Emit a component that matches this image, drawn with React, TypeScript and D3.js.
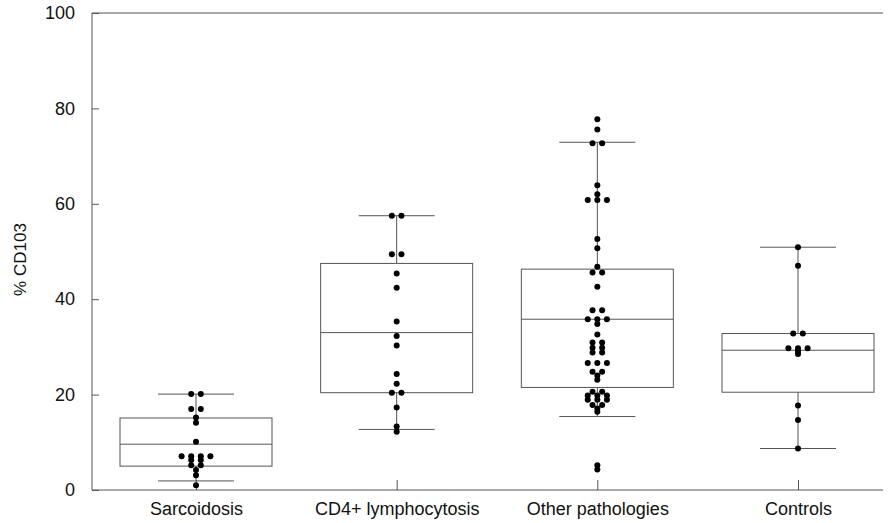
import { useEffect, useRef } from "react";
import * as d3 from "d3";

const categories = ["Sarcoidosis", "CD4+ lymphocytosis", "Other pathologies", "Controls"];

// box stats: [whiskerLow, q1, median, q3, whiskerHigh]
const sarcoidosisBox = [1.9, 5.0, 9.6, 15.1, 20.1];
const cd4Box = [12.7, 20.4, 33.0, 47.5, 57.5];
const otherBox = [15.4, 21.5, 35.8, 46.3, 72.9];
const controlsBox = [8.7, 20.5, 29.3, 32.8, 50.9];

const sarcoidosisPoints = [20.1, 20.1, 17.0, 17.0, 15.2, 14.1, 10.1, 7.1, 7.1, 7.1, 7.1, 6.3, 6.3, 5.2, 5.2, 4.2, 3.1, 1.0];
const cd4Points = [57.5, 57.5, 49.4, 49.4, 45.4, 42.4, 35.3, 32.3, 30.3, 24.3, 22.3, 20.4, 20.4, 17.3, 13.3, 12.2];
const otherPoints = [
  77.7, 75.6, 72.7, 72.7, 63.9, 62.0, 60.8, 60.8, 60.8, 52.6, 50.7, 46.8, 45.6, 45.6, 42.6,
  37.7, 37.7, 35.8, 35.8, 35.8, 34.8, 32.6, 30.9, 30.9, 29.8, 29.8, 28.8, 28.8,
  26.6, 26.6, 26.6, 24.8, 24.8, 24.0, 23.1, 20.6, 20.6, 19.8, 19.8, 19.8,
  18.9, 18.9, 18.9, 17.8, 17.8, 17.1, 16.4, 5.2, 4.3,
];
const controlsPoints = [50.9, 47.0, 32.8, 32.8, 29.7, 29.7, 29.7, 29.1, 28.5, 17.7, 14.7, 8.7];

const yTicks = [0, 20, 40, 60, 80, 100];

const boxes = [sarcoidosisBox, cd4Box, otherBox, controlsBox];
const points = [sarcoidosisPoints, cd4Points, otherPoints, controlsPoints];

function App() {
  const svgRef = useRef<SVGSVGElement | null>(null);

  useEffect(() => {
    document.body.style.margin = "0";
    const width = 891;
    const height = 523;
    const left = 92, right = 883, top = 13, bottom = 490;
    const lineColor = "#555";

    const svg = d3.select(svgRef.current).attr("width", width).attr("height", height);
    svg.selectAll("*").remove();

    const x = d3.scalePoint<string>().domain(categories).range([196, 798]);
    const y = d3.scaleLinear().domain([0, 100]).range([bottom, top]);

    // frame: left, top, bottom
    svg.append("path")
      .attr("d", `M${right},${top}H${left}V${bottom}H${right}`)
      .attr("fill", "none")
      .attr("stroke", lineColor)
      .attr("stroke-width", 1);

    // y axis
    const yAxis = svg.append("g")
      .attr("transform", `translate(${left},0)`)
      .call(d3.axisLeft(y).tickValues(yTicks).tickSizeInner(-7).tickSizeOuter(0).tickPadding(17));
    yAxis.select(".domain").remove();
    yAxis.selectAll("line").attr("stroke", lineColor);
    yAxis.selectAll("text")
      .attr("font-family", "'Liberation Sans', Arial, sans-serif")
      .attr("font-size", 18)
      .attr("fill", "#111");

    // x axis
    const xAxis = svg.append("g")
      .attr("transform", `translate(0,${bottom})`)
      .call(d3.axisBottom(x).tickSizeInner(-10).tickSizeOuter(0).tickPadding(9));
    xAxis.select(".domain").remove();
    xAxis.selectAll("line").attr("stroke", lineColor);
    xAxis.selectAll("text")
      .attr("font-family", "'Liberation Sans', Arial, sans-serif")
      .attr("font-size", 18)
      .attr("fill", "#111")
      .attr("dy", "0.9em");

    // y label
    svg.append("text")
      .attr("transform", `translate(26,${(top + bottom) / 2 + 8}) rotate(-90)`)
      .attr("text-anchor", "middle")
      .attr("font-family", "'Liberation Sans', Arial, sans-serif")
      .attr("font-size", 17)
      .attr("fill", "#111")
      .text("% CD103");

    const boxW = 152;
    const capW = 76;
    const step = 9.6;

    categories.forEach((cat, i) => {
      const cx = x(cat) as number;
      const [wLo, q1, med, q3, wHi] = boxes[i];
      const g = svg.append("g");

      // whiskers
      g.append("line").attr("x1", cx).attr("x2", cx).attr("y1", y(wHi)).attr("y2", y(q3))
        .attr("stroke", lineColor);
      g.append("line").attr("x1", cx).attr("x2", cx).attr("y1", y(q1)).attr("y2", y(wLo))
        .attr("stroke", lineColor);
      g.append("line").attr("x1", cx - capW / 2).attr("x2", cx + capW / 2).attr("y1", y(wHi)).attr("y2", y(wHi))
        .attr("stroke", lineColor);
      g.append("line").attr("x1", cx - capW / 2).attr("x2", cx + capW / 2).attr("y1", y(wLo)).attr("y2", y(wLo))
        .attr("stroke", lineColor);

      // box
      g.append("rect")
        .attr("x", cx - boxW / 2).attr("y", y(q3))
        .attr("width", boxW).attr("height", y(q1) - y(q3))
        .attr("fill", "none").attr("stroke", lineColor);
      g.append("line").attr("x1", cx - boxW / 2).attr("x2", cx + boxW / 2).attr("y1", y(med)).attr("y2", y(med))
        .attr("stroke", lineColor);

      // dots: equal values share a row
      const rows = d3.group(points[i], (v) => v);
      const dots: { v: number; off: number }[] = [];
      rows.forEach((vals, v) => {
        vals.forEach((_, k) => dots.push({ v, off: (k - (vals.length - 1) / 2) * step }));
      });
      g.selectAll("circle")
        .data(dots)
        .enter()
        .append("circle")
        .attr("cx", (d) => cx + d.off)
        .attr("cy", (d) => y(d.v))
        .attr("r", 3)
        .attr("fill", "#000");
    });
  }, []);

  return <svg ref={svgRef} width={891} height={523} style={{ display: "block" }}></svg>;
}

export default App;
